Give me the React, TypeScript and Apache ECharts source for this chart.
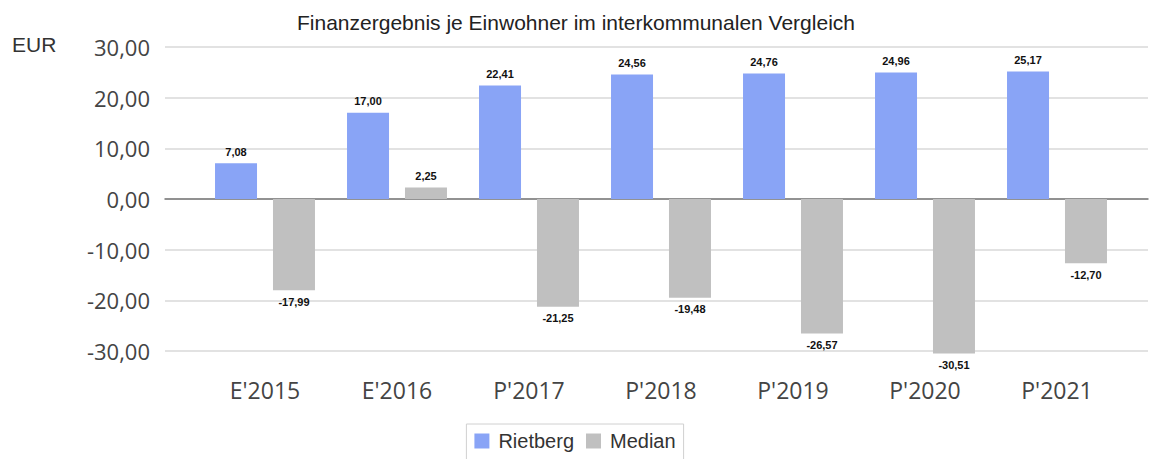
import React, { useEffect, useRef } from "react";
import * as echarts from "echarts";

const categories = ["E'2015", "E'2016", "P'2017", "P'2018", "P'2019", "P'2020", "P'2021"];
const rietberg = [7.08, 17.0, 22.41, 24.56, 24.76, 24.96, 25.17];
const median = [-17.99, 2.25, -21.25, -19.48, -26.57, -30.51, -12.7];
const yTicks = { min: -30, max: 30, interval: 10 };

const fmt = (v: number) => v.toFixed(2).replace(".", ",");

export default function App() {
  const ref = useRef<HTMLDivElement>(null);
  useEffect(() => {
    document.body.style.margin = "0";
    const chart = echarts.init(ref.current!, null, { renderer: "svg" });
    const labelStyle = {
      show: true,
      fontSize: 11,
      fontWeight: "bold" as const,
      color: "#111",
      fontFamily: "Liberation Sans",
      distance: 6,
      formatter: (p: any) => fmt(p.value),
    };
    const toData = (arr: number[]) =>
      arr.map((v) => ({ value: v, label: { position: v < 0 ? "bottom" : "top" } }));
    chart.setOption({
      animation: false,
      backgroundColor: "#fff",
      title: {
        text: "Finanzergebnis je Einwohner im interkommunalen Vergleich",
        left: 571,
        textAlign: "center",
        top: 7,
        textStyle: { fontSize: 21, fontWeight: "normal", color: "#222", fontFamily: "Liberation Sans" },
      },
      graphic: [
        {
          type: "text",
          left: 12,
          top: 34,
          style: { text: "EUR", fontSize: 21, fill: "#333", fontFamily: "Liberation Sans" },
        },
      ],
      legend: {
        top: 424,
        left: "center",
        data: ["Rietberg", "Median"],
        icon: "rect",
        itemWidth: 15,
        itemHeight: 15,
        itemGap: 12,
        borderColor: "#d0d0d0",
        borderWidth: 1,
        padding: [7, 8, 20, 8],
        textStyle: { fontSize: 20, color: "#333", fontFamily: "Liberation Sans", padding: [0, 0, 0, 4] },
      },
      grid: [
        { left: 165, right: 2, top: 47, bottom: 108 },
        { left: 199, right: 27, top: 47, bottom: 108 },
      ],
      xAxis: [
        {
          type: "value",
          gridIndex: 0,
          min: 0,
          max: 1,
          axisLine: { show: true, onZero: true, lineStyle: { color: "#777", width: 1.5 } },
          axisTick: { show: false },
          axisLabel: { show: false },
          splitLine: { show: false },
        },
        {
          type: "category",
          gridIndex: 1,
          data: categories,
          axisLine: { show: false, onZero: false },
          axisTick: { show: false },
          axisLabel: {
            margin: 27,
            fontSize: 23,
            color: "#444",
            fontFamily: "Open Sans",
          },
        },
      ],
      yAxis: [
        {
          type: "value",
          gridIndex: 0,
          ...yTicks,
          axisLine: { show: false },
          axisTick: { show: false },
          axisLabel: {
            margin: 15,
            fontSize: 22,
            color: "#444",
            fontFamily: "Open Sans",
            formatter: (v: number) => fmt(v),
          },
          splitLine: { lineStyle: { color: "#d9d9d9", width: 1.5 } },
        },
        {
          type: "value",
          gridIndex: 1,
          ...yTicks,
          axisLine: { show: false },
          axisTick: { show: false },
          axisLabel: { show: false },
          splitLine: { show: false },
        },
      ],
      series: [
        {
          name: "Rietberg",
          type: "bar",
          xAxisIndex: 1,
          yAxisIndex: 1,
          data: toData(rietberg),
          barWidth: 42,
          barGap: "38%",
          clip: false,
          itemStyle: { color: "#89a4f6" },
          label: labelStyle,
        },
        {
          name: "Median",
          type: "bar",
          xAxisIndex: 1,
          yAxisIndex: 1,
          data: toData(median),
          barWidth: 42,
          barGap: "38%",
          clip: false,
          itemStyle: { color: "#c0c0c0" },
          label: labelStyle,
        },
      ],
    });
    return () => chart.dispose();
  }, []);
  return <div ref={ref} style={{ position: "fixed", left: 0, top: 0, width: 1150, height: 459 }} />;
}
